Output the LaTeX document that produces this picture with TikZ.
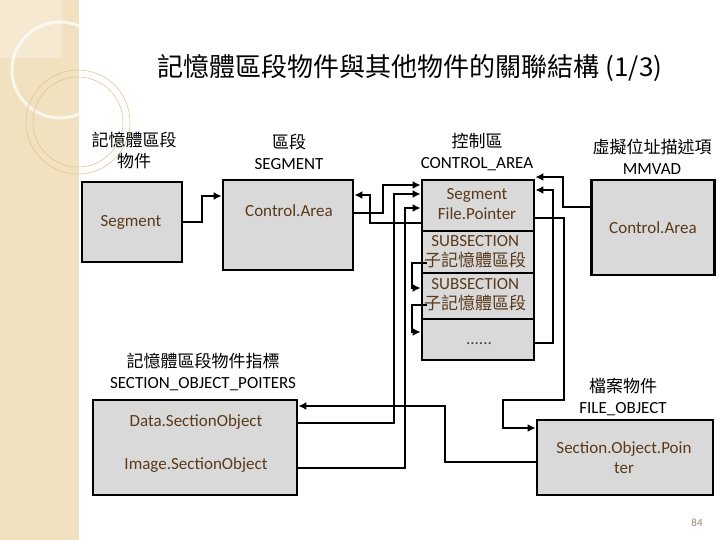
\documentclass[tikz,border=0pt]{standalone}
\usepackage{fontspec}
\usetikzlibrary{arrows.meta}
\setmainfont{Carlito}
\newfontfamily\cjk{Noto Sans CJK TC}
\begin{document}
\begin{tikzpicture}[x=1pt,y=-1pt,
  box/.style={draw,line width=2.8pt,fill=boxgray,inner sep=0pt},
  btxt/.style={text=boxtxt,font=\fontsize{17}{20}\selectfont,align=center},
  lbl/.style={font=\fontsize{17}{21}\selectfont,align=center},
  arr/.style={line width=2.6pt,-{Latex[length=8pt,width=8pt]}}]
\definecolor{boxgray}{HTML}{D9D9D9}
\definecolor{boxtxt}{HTML}{5A3A1A}
\definecolor{beige}{HTML}{F1E1BE}
\useasboundingbox (0,0) rectangle (720,540);
\fill[white] (0,0) rectangle (720,540);
\fill[beige] (0,0) rectangle (79,540);
\draw[white,line width=3pt,opacity=0.7] (60,70) circle (48);
\fill[white,opacity=0.3] (0,0) rectangle (62,58);
\draw[beige!70!brown,line width=0.6pt] (78,122) circle (45);
\draw[beige!70!brown,line width=0.6pt] (78,122) circle (52);
\node[font=\cjk\fontsize{26}{30}\selectfont] (title) at (410,68) {記憶體區段物件與其他物件的關聯結構 (1/3)};
% labels
\node[lbl] (l1) at (134,150) {\cjk 記憶體區段\\\cjk 物件};
\node[lbl] (l2) at (289,152) {\cjk 區段\\SEGMENT};
\node[lbl] (l3) at (477,152) {\cjk 控制區\\CONTROL\_AREA};
\node[lbl] (l4) at (652,157) {\cjk 虛擬位址描述項\\MMVAD};
\node[lbl] (l5) at (203,372) {\cjk 記憶體區段物件指標\\SECTION\_OBJECT\_POITERS};
\node[lbl] (l6) at (623,397) {\cjk 檔案物件\\FILE\_OBJECT};
% boxes
\node[box,minimum width=100pt,minimum height=80pt] (seg) at (132,222) {};
\node[btxt] (segt) at (131,222) {Segment};
\node[box,minimum width=130pt,minimum height=90pt] (ca) at (288,225) {};
\node[btxt] (cat) at (289,211) {Control.Area};
\node[box,minimum width=112pt,minimum height=51pt] (c1) at (478,205.5) {};
\node[btxt] (c1t) at (477,204) {Segment\\File.Pointer};
\node[box,minimum width=112pt,minimum height=42pt] (c2) at (478,252) {};
\node[btxt,anchor=west,inner sep=0pt] (c2t) at (424,252) {SUBSECTION\\\cjk 子記憶體區段};
\node[box,minimum width=112pt,minimum height=46pt] (c3) at (478,296) {};
\node[btxt,anchor=west,inner sep=0pt] (c3t) at (424,295) {SUBSECTION\\\cjk 子記憶體區段};
\node[box,minimum width=112pt,minimum height=41pt] (c4) at (478,339.5) {};
\node[btxt] (c4t) at (479,344) {......};
\node[box,minimum width=123pt,minimum height=95pt] (mm) at (653,227.5) {};
\node[btxt] (mmt) at (653,228) {Control.Area};
\node[box,minimum width=204pt,minimum height=95pt] (ds) at (195,447.5) {};
\node[btxt] (dst) at (196,422) {Data.SectionObject};
\node[btxt] (ist) at (196,465) {Image.SectionObject};
\node[box,minimum width=176pt,minimum height=75pt] (so) at (625,457.5) {};
\node[btxt] (sot) at (624,458) {Section.Object.Poin\\ter};
\node[font=\fontsize{11}{13}\selectfont,text=boxtxt!60] (pg) at (697,523) {84};
% connectors
\draw[arr] (seg.east|-0,222) -- (202,222) -- (202,196) -- (ca.west|-0,196);
\draw[arr] (c1.west|-0,223) -- (370,223) -- (370,195) -- (ca.east|-0,195);
\draw[arr] (ca.east|-0,213) -- (383,213) -- (383,185) -- (c1.west|-0,185);
\draw[arr] (ds.east|-0,423) -- (394,423) -- (394,194) -- (c1.west|-0,194);
\draw[arr] (ds.east|-0,468) -- (405,468) -- (405,208) -- (c1.west|-0,208);
\draw[arr] (427,263) -- (412,263) -- (412,288) -- (c3.west|-0,288);
\draw[arr] (427,305) -- (412,305) -- (412,332) -- (c4.west|-0,332);
\draw[arr] (mm.west|-0,207) -- (563,207) -- (563,177) -- (c1.east|-0,177);
\draw[arr] (c4.east|-0,343) -- (553,343) -- (553,190) -- (c1.east|-0,190);
\draw[arr] (c1.east|-0,218) -- (564,218) -- (564,400) -- (503,400) -- (503,428) -- (so.west|-0,428);
\draw[arr] (so.west|-0,462) -- (445,462) -- (445,406) -- (ds.east|-0,406);
\end{tikzpicture}
\end{document}
